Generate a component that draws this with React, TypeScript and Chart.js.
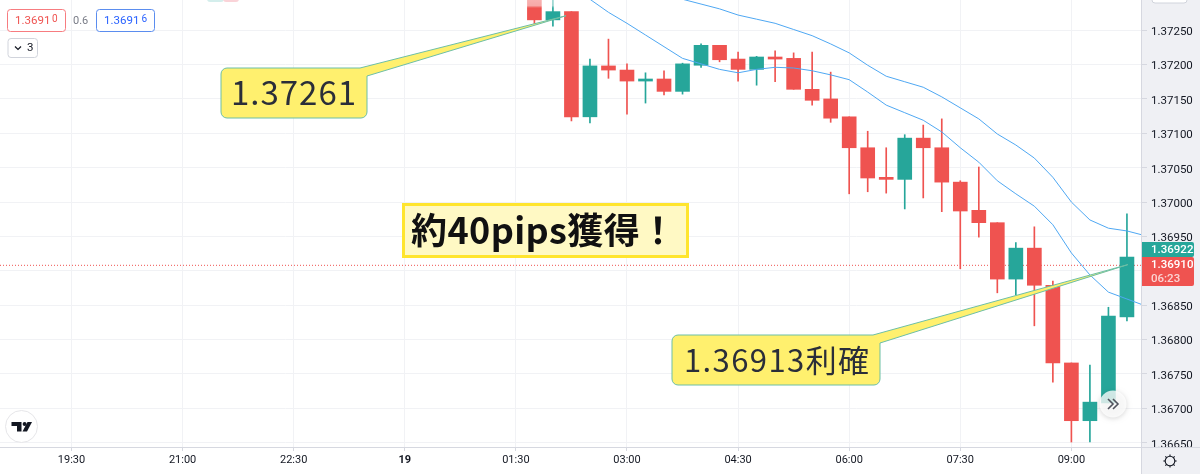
import React, { useEffect, useRef } from "react";
import { Chart, registerables } from "chart.js";

Chart.register(...registerables);

const candleTimes = [375, 390, 405, 420, 435, 450, 465, 480, 495, 510, 525, 540, 555, 570, 585, 600, 615, 630, 645, 660, 675, 690, 705, 720, 735, 750, 765, 780, 795, 810, 825, 840, 855];
const opens = [1.373, 1.37265, 1.37277, 1.37124, 1.37198, 1.37192, 1.37176, 1.37179, 1.37161, 1.37199, 1.37228, 1.37208, 1.37193, 1.37211, 1.37209, 1.37164, 1.3715, 1.37124, 1.37079, 1.37036, 1.37033, 1.37093, 1.37079, 1.37029, 1.36988, 1.3697, 1.36888, 1.36933, 1.36879, 1.36766, 1.36682, 1.36708, 1.36833];
const highs = [1.37305, 1.37305, 1.37277, 1.37208, 1.37237, 1.37201, 1.37188, 1.37191, 1.37202, 1.3723, 1.37228, 1.37218, 1.37212, 1.3722, 1.37217, 1.37218, 1.37189, 1.37124, 1.37103, 1.37079, 1.37098, 1.37112, 1.37121, 1.37031, 1.37051, 1.3697, 1.36941, 1.36964, 1.36885, 1.36766, 1.36763, 1.36847, 1.36983];
const lows = [1.37259, 1.37256, 1.37118, 1.37115, 1.3718, 1.37128, 1.37144, 1.37156, 1.37157, 1.37196, 1.37204, 1.37176, 1.3717, 1.37175, 1.37164, 1.37141, 1.37116, 1.37012, 1.37015, 1.37013, 1.3699, 1.37006, 1.36986, 1.36903, 1.36949, 1.36868, 1.36865, 1.3682, 1.36738, 1.36651, 1.36651, 1.36708, 1.36827];
const closes = [1.37265, 1.37277, 1.37124, 1.37198, 1.37192, 1.37176, 1.37179, 1.37161, 1.37201, 1.37228, 1.37207, 1.37193, 1.37211, 1.37208, 1.37164, 1.37148, 1.37122, 1.37079, 1.37035, 1.37033, 1.37093, 1.37079, 1.37029, 1.36987, 1.3697, 1.36888, 1.36933, 1.36879, 1.36766, 1.36682, 1.36709, 1.36834, 1.3692];

const fastTimes = [405, 420, 435, 450, 465, 480, 495, 510, 525, 540, 555, 570, 585, 600, 615, 630, 645, 660, 675, 690, 705, 720, 735, 750, 765, 780, 795, 810, 825, 840, 855, 870];
const fastMa = [1.37314, 1.37295, 1.37276, 1.3726, 1.37243, 1.37226, 1.37209, 1.37201, 1.37193, 1.37188, 1.37193, 1.37196, 1.37195, 1.37191, 1.37185, 1.37178, 1.3716, 1.37141, 1.3713, 1.37119, 1.37102, 1.37079, 1.37058, 1.37031, 1.37012, 1.36994, 1.36967, 1.36926, 1.36894, 1.36869, 1.36859, 1.36849];
const slowTimes = [480, 495, 510, 525, 540, 555, 570, 585, 600, 615, 630, 645, 660, 675, 690, 705, 720, 735, 750, 765, 780, 795, 810, 825, 840, 855, 870];
const slowMa = [1.37303, 1.37295, 1.37288, 1.37281, 1.37272, 1.37266, 1.3726, 1.37251, 1.37242, 1.3723, 1.37217, 1.37199, 1.37183, 1.37175, 1.37167, 1.37153, 1.37137, 1.37121, 1.37099, 1.37083, 1.37064, 1.37036, 1.37, 1.36974, 1.36962, 1.36958, 1.36951];

const priceTicks = [1.3725, 1.372, 1.3715, 1.371, 1.3705, 1.37, 1.3695, 1.369, 1.3685, 1.368, 1.3675, 1.367, 1.3665];
const timeTicks = [0, 90, 180, 270, 360, 450, 540, 630, 720, 810];
const timeLabels = ["19:30", "21:00", "22:30", "19", "01:30", "03:00", "04:30", "06:00", "07:30", "09:00"];

const X_MIN = -57.9;
const X_MAX = 867.2;
const Y_MAX = 1.372939;
const Y_MIN = 1.366423;
const lastPrice = 1.36908;
const ticker = { bid: "1.36922", last: "1.36910", timer: "06:23" };
const calloutEntry = { t: 400.6, v: 1.37271, text: "1.37261" };
const calloutExit = { t: 855.7, v: 1.36909, text: "1.36913利確" };
const headline = "約40pips獲得！";

const UP = "#26A69A";
const DOWN = "#EF5350";
const UI_FONT = "Roboto";
const CJK = '"Noto Sans CJK JP"';

function roundedBox(ctx: any, x: number, y: number, w: number, h: number, r: any) {
  ctx.beginPath();
  ctx.roundRect(x, y, w, h, r);
}

function callout(ctx: any, box: number[], baseA: number[], baseB: number[], tip: number[], text: string, font: string, spacing: string, textX: number, textY: number) {
  const [l, t, r, b] = box;
  const rad = 6;
  ctx.beginPath();
  ctx.moveTo(l + rad, t);
  ctx.lineTo(baseA[0], baseA[1]);
  ctx.lineTo(tip[0], tip[1]);
  ctx.lineTo(baseB[0], baseB[1]);
  ctx.lineTo(r, b - rad);
  ctx.arcTo(r, b, r - rad, b, rad);
  ctx.lineTo(l + rad, b);
  ctx.arcTo(l, b, l, b - rad, rad);
  ctx.lineTo(l, t + rad);
  ctx.arcTo(l, t, l + rad, t, rad);
  ctx.closePath();
  ctx.fillStyle = "#FFF06E";
  ctx.fill();
  ctx.strokeStyle = "#6DBFA6";
  ctx.lineWidth = 1;
  ctx.stroke();
  ctx.fillStyle = "#2A2E39";
  ctx.font = font;
  ctx.letterSpacing = spacing;
  ctx.textAlign = "left";
  ctx.textBaseline = "middle";
  ctx.fillText(text, textX, textY);
  ctx.letterSpacing = "0px";
}

const chrome = {
  id: "chrome",
  beforeDraw(chart: any) {
    const { ctx, width, height, chartArea: a } = chart;
    ctx.save();
    ctx.fillStyle = "#FFFFFF";
    ctx.fillRect(0, 0, width, height);
    ctx.fillStyle = "#EFF0F4";
    ctx.fillRect(a.right, 0, width - a.right, height);
    ctx.restore();
  },
  afterDraw(chart: any) {
    const { ctx, width, height, chartArea: a, scales } = chart;
    const px = (t: number) => scales.x.getPixelForValue(t);
    const py = (v: number) => scales.y.getPixelForValue(v);
    ctx.save();

    const fade = ctx.createLinearGradient(0, 0, 0, 8);
    fade.addColorStop(0, "rgba(255,255,255,0.55)");
    fade.addColorStop(0.7, "rgba(255,255,255,0.5)");
    fade.addColorStop(1, "rgba(255,255,255,0)");
    ctx.fillStyle = fade;
    ctx.fillRect(525, 0, 45, 8);
    ctx.fillStyle = "#D4EEEC";
    roundedBox(ctx, 207, -4, 17, 6, 3);
    ctx.fill();
    ctx.fillStyle = "#FAD3D8";
    roundedBox(ctx, 223, -4, 16, 6, 3);
    ctx.fill();
    ctx.fillStyle = "#FFFFFF";
    ctx.strokeStyle = "#D1D4DC";
    roundedBox(ctx, 1152, -6, 35, 9, 3);
    ctx.fill();
    ctx.stroke();

    callout(ctx, [221, 68, 367, 118], [360, 68], [367, 76], [px(calloutEntry.t), py(calloutEntry.v)], calloutEntry.text, `33px ${CJK}`, "1px", 231, 92);
    callout(ctx, [672, 335, 880, 385], [873, 335], [880, 343], [px(calloutExit.t), py(calloutExit.v)], calloutExit.text, `31px ${CJK}`, "1.4px", 684, 360);

    ctx.fillStyle = "#FFF9C4";
    ctx.fillRect(403, 204, 285, 52);
    ctx.strokeStyle = "#FFE52E";
    ctx.lineWidth = 3;
    ctx.strokeRect(403.5, 204.5, 284, 52);
    ctx.fillStyle = "#111111";
    ctx.font = `700 36px ${CJK}`;
    ctx.letterSpacing = "0.4px";
    ctx.textAlign = "left";
    ctx.textBaseline = "middle";
    ctx.fillText(headline, 411, 230);
    ctx.letterSpacing = "0px";

    ctx.save();
    ctx.shadowColor = "rgba(0,0,0,0.2)";
    ctx.shadowBlur = 5;
    ctx.shadowOffsetY = 1;
    ctx.fillStyle = "rgba(255,255,255,0.78)";
    ctx.beginPath();
    ctx.arc(1113, 404, 13.5, 0, Math.PI * 2);
    ctx.fill();
    ctx.restore();
    ctx.strokeStyle = "#50535E";
    ctx.lineWidth = 1.6;
    [1108, 1113].forEach((x) => {
      ctx.beginPath();
      ctx.moveTo(x, 399);
      ctx.lineTo(x + 5, 404);
      ctx.lineTo(x, 409);
      ctx.stroke();
    });

    ctx.fillStyle = "#FFFFFF";
    ctx.strokeStyle = "#E6E6E9";
    ctx.lineWidth = 1;
    ctx.beginPath();
    ctx.arc(21.5, 426.5, 16, 0, Math.PI * 2);
    ctx.fill();
    ctx.stroke();
    ctx.fillStyle = "#131722";
    ctx.beginPath();
    ctx.moveTo(11.5, 422);
    ctx.lineTo(21.5, 422);
    ctx.lineTo(21.5, 431.5);
    ctx.lineTo(17, 431.5);
    ctx.lineTo(17, 426);
    ctx.lineTo(11.5, 426);
    ctx.closePath();
    ctx.fill();
    ctx.beginPath();
    ctx.arc(24.6, 424, 2, 0, Math.PI * 2);
    ctx.fill();
    ctx.beginPath();
    ctx.moveTo(27.5, 422);
    ctx.lineTo(32, 422);
    ctx.lineTo(27, 431.5);
    ctx.lineTo(22.5, 431.5);
    ctx.closePath();
    ctx.fill();

    ctx.fillStyle = "#EFF0F4";
    ctx.fillRect(a.right, a.bottom, width - a.right, height - a.bottom);
    ctx.strokeStyle = "#D6D8E0";
    ctx.lineWidth = 1;
    ctx.beginPath();
    ctx.moveTo(a.right - 0.5, 0);
    ctx.lineTo(a.right - 0.5, height);
    ctx.moveTo(0, a.bottom - 0.5);
    ctx.lineTo(width, a.bottom - 0.5);
    ctx.stroke();

    ctx.strokeStyle = "#131722";
    ctx.lineWidth = 1.1;
    ctx.beginPath();
    ctx.arc(1170, 461, 4.8, 0, Math.PI * 2);
    ctx.stroke();
    for (let i = 0; i < 8; i++) {
      const ang = (i * Math.PI) / 4;
      ctx.beginPath();
      ctx.moveTo(1170 + Math.cos(ang) * 4.8, 461 + Math.sin(ang) * 4.8);
      ctx.lineTo(1170 + Math.cos(ang) * 6.6, 461 + Math.sin(ang) * 6.6);
      ctx.stroke();
    }

    ctx.fillStyle = UP;
    roundedBox(ctx, a.right, 242, 52, 15, [0, 2, 2, 0]);
    ctx.fill();
    ctx.fillStyle = DOWN;
    roundedBox(ctx, a.right, 257, 52, 29, [0, 2, 2, 0]);
    ctx.fill();
    ctx.font = `500 11.5px ${UI_FONT}`;
    ctx.textAlign = "left";
    ctx.textBaseline = "middle";
    ctx.fillStyle = "#FFFFFF";
    ctx.fillText(ticker.bid, 1151, 250);
    ctx.fillText(ticker.last, 1151, 265.5);
    ctx.fillStyle = "rgba(255,255,255,0.75)";
    ctx.fillText(ticker.timer, 1151, 279.5);

    ctx.lineWidth = 1;
    ctx.strokeStyle = "#F77C80";
    ctx.fillStyle = "#FFFFFF";
    roundedBox(ctx, 7.5, 9.5, 58, 22, 3);
    ctx.fill();
    ctx.stroke();
    ctx.strokeStyle = "#5B8DEF";
    roundedBox(ctx, 96.5, 9.5, 58, 22, 3);
    ctx.fill();
    ctx.stroke();
    ctx.strokeStyle = "#D1D4DC";
    roundedBox(ctx, 8, 38.5, 29.5, 19, 3);
    ctx.fill();
    ctx.stroke();
    ctx.font = `11.5px ${UI_FONT}`;
    ctx.fillStyle = "#EF5350";
    ctx.fillText("1.3691", 15, 21.5);
    ctx.font = `10px ${UI_FONT}`;
    ctx.fillText("0", 52, 19);
    ctx.fillStyle = "#787B86";
    ctx.font = `11px ${UI_FONT}`;
    ctx.fillText("0.6", 73, 21.5);
    ctx.font = `11.5px ${UI_FONT}`;
    ctx.fillStyle = "#2962FF";
    ctx.fillText("1.3691", 104, 21.5);
    ctx.font = `10px ${UI_FONT}`;
    ctx.fillText("6", 141.5, 19);
    ctx.strokeStyle = "#131722";
    ctx.lineWidth = 1.2;
    ctx.beginPath();
    ctx.moveTo(15, 46.5);
    ctx.lineTo(18, 49.5);
    ctx.lineTo(21, 46.5);
    ctx.stroke();
    ctx.fillStyle = "#131722";
    ctx.font = `11.5px ${UI_FONT}`;
    ctx.fillText("3", 27, 48.5);
    ctx.restore();
  },
};

export default function App() {
  const ref = useRef<HTMLCanvasElement>(null);
  useEffect(() => {
    document.body.style.margin = "0";
    const noPad = (s: any) => {
      s.paddingTop = 0;
      s.paddingBottom = 0;
      s.paddingLeft = 0;
      s.paddingRight = 0;
    };
    const chart = new Chart(ref.current as HTMLCanvasElement, {
      type: "bar",
      data: {
        datasets: [
          {
            type: "line",
            data: slowTimes.map((x, i) => ({ x, y: slowMa[i] })),
            borderColor: "#4FA8F3",
            borderWidth: 1,
            pointRadius: 0,
            order: 1,
          },
          {
            type: "line",
            data: fastTimes.map((x, i) => ({ x, y: fastMa[i] })),
            borderColor: "#4FA8F3",
            borderWidth: 1,
            pointRadius: 0,
            order: 1,
          },
          {
            type: "line",
            data: [
              { x: X_MIN, y: lastPrice },
              { x: X_MAX, y: lastPrice },
            ],
            borderColor: "#EF5350",
            borderWidth: 1,
            borderDash: [1, 2],
            pointRadius: 0,
            order: 4,
          },
          {
            type: "bar",
            data: candleTimes.map((x, i) => ({ x, y: [opens[i], closes[i]] })),
            backgroundColor: candleTimes.map((_, i) => (closes[i] >= opens[i] ? UP : DOWN)),
            barThickness: 14,
            grouped: false,
            order: 2,
          },
          {
            type: "bar",
            data: candleTimes.map((x, i) => ({ x, y: [lows[i], highs[i]] })),
            backgroundColor: candleTimes.map((_, i) => (closes[i] >= opens[i] ? UP : DOWN)),
            barThickness: 1,
            grouped: false,
            order: 3,
          },
        ],
      } as any,
      options: {
        responsive: false,
        animation: false,
        layout: { padding: 0 },
        plugins: { legend: { display: false }, tooltip: { enabled: false } },
        scales: {
          x: {
            type: "linear",
            min: X_MIN,
            max: X_MAX,
            offset: false,
            afterFit: (s: any) => {
              s.height = 26;
              noPad(s);
            },
            afterBuildTicks: (s: any) => {
              s.ticks = timeTicks.map((value) => ({ value }));
            },
            grid: { color: "#F1F2F5", tickColor: "#D6D8E0", tickLength: 3, offset: false },
            border: { display: false },
            ticks: {
              autoSkip: false,
              maxRotation: 0,
              padding: 3,
              color: "#131722",
              font: (c: any) => ({ family: UI_FONT, size: 11, weight: c.tick && c.tick.value === 270 ? "700" : "400" }),
              callback: (v: any) => timeLabels[timeTicks.indexOf(v)],
            },
          },
          y: {
            type: "linear",
            position: "right",
            min: Y_MIN,
            max: Y_MAX,
            afterFit: (s: any) => {
              s.width = 58;
              noPad(s);
            },
            afterBuildTicks: (s: any) => {
              s.ticks = priceTicks.map((value) => ({ value }));
            },
            grid: { color: "#F1F2F5", tickColor: "#D6D8E0", tickLength: 5 },
            border: { display: false },
            ticks: {
              autoSkip: false,
              padding: 4,
              labelOffset: 2,
              color: "#131722",
              font: { family: UI_FONT, size: 11.5 },
              callback: (v: any) => Number(v).toFixed(5),
            },
          },
        },
      } as any,
      plugins: [chrome],
    });
    return () => chart.destroy();
  }, []);
  return <canvas ref={ref} width={1200} height={474} style={{ display: "block" }} />;
}
